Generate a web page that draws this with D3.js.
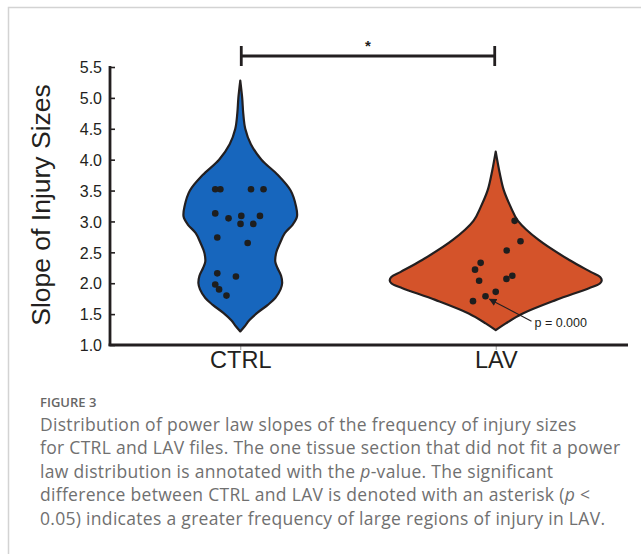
<!DOCTYPE html>
<html>
<head>
<meta charset="utf-8">
<script src="https://cdn.jsdelivr.net/npm/d3@7"></script>
<style>
  html, body { margin: 0; padding: 0; background: #fff; }
  svg { display: block; }
</style>
</head>
<body>
<svg id="chart" width="641" height="554"></svg>
<script>
// ---------- data ----------
const categories = ["CTRL", "LAV"];
const yTicks = [1.0, 1.5, 2.0, 2.5, 3.0, 3.5, 4.0, 4.5, 5.0, 5.5];

// violin density profiles: [value, relative density]
const ctrlProfile = [
  [1.22, 0], [1.30, 0.04], [1.40, 0.085], [1.52, 0.16], [1.65, 0.26], [1.76, 0.33],
  [1.90, 0.38], [2.00, 0.395], [2.12, 0.385], [2.25, 0.35], [2.35, 0.33], [2.50, 0.34],
  [2.65, 0.375], [2.81, 0.42], [2.95, 0.495], [3.08, 0.535], [3.25, 0.525], [3.50, 0.475],
  [3.75, 0.355], [4.00, 0.2], [4.25, 0.1], [4.50, 0.047], [4.75, 0.028], [5.00, 0.018], [5.28, 0]
];
const lavProfile = [
  [1.24, 0], [1.35, 0.095], [1.51, 0.255], [1.73, 0.57], [1.92, 0.88], [2.00, 0.985],
  [2.05, 1.0], [2.10, 0.985], [2.18, 0.9], [2.38, 0.69], [2.70, 0.405], [3.01, 0.21],
  [3.24, 0.14], [3.51, 0.075], [3.78, 0.038], [4.13, 0]
];

// observed slopes and horizontal jitter (fraction of category step)
const ctrlValues = [3.52, 3.52, 3.52, 3.52, 3.13, 3.05, 3.09, 3.09, 2.96, 2.96, 2.74, 2.65, 2.16, 2.11, 1.98, 1.90, 1.80];
const ctrlJitter = [-0.098, -0.078, 0.042, 0.091, -0.098, -0.046, 0.004, 0.077, 0.001, 0.051, -0.090, 0.029, -0.090, -0.017, -0.098, -0.083, -0.054];
const lavValues = [3.01, 2.68, 2.53, 2.33, 2.22, 2.04, 2.07, 2.12, 1.86, 1.79, 1.71];
const lavJitter = [0.074, 0.097, 0.043, -0.059, -0.081, -0.065, 0.042, 0.065, 0.0, -0.040, -0.089];

const annotatedIndex = 9;          // LAV point that did not fit a power law
const annotationText = "p = 0.000";
const yTitle = "Slope of Injury Sizes";
const captionTitle = "FIGURE 3";
const captionLines = [
  "Distribution of power law slopes of the frequency of injury sizes",
  "for CTRL and LAV files. The one tissue section that did not fit a power",
  "law distribution is annotated with the |p|-value. The significant",
  "difference between CTRL and LAV is denoted with an asterisk (|p| <",
  "0.05) indicates a greater frequency of large regions of injury in LAV."
];

const colors = { CTRL: "#1766bd", LAV: "#d4532a" };

// ---------- drawing ----------
const svg = d3.select("#chart");
const ink = "#231f20";

// frame
svg.append("path")
  .attr("d", "M8.5,554 L8.5,7.5 L641,7.5")
  .attr("fill", "none").attr("stroke", "#d3d3d3").attr("stroke-width", 1.5);

const x = d3.scalePoint().domain(categories).range([110, 626]).padding(0.51);
const y = d3.scaleLinear().domain([1, 5.5]).range([345, 67]);
const w = d3.scaleLinear().domain([0, 1]).range([0, 106]);

// violins
const groups = [
  { key: "CTRL", profile: ctrlProfile, values: ctrlValues, jitter: ctrlJitter },
  { key: "LAV", profile: lavProfile, values: lavValues, jitter: lavJitter }
];

groups.forEach(g => {
  const cx = x(g.key);
  const area = d3.area()
    .y(d => y(d[0]))
    .x0(d => cx - w(d[1]))
    .x1(d => cx + w(d[1]))
    .curve(d3.curveCatmullRom.alpha(0.5));
  svg.append("path")
    .datum(g.profile)
    .attr("d", area)
    .attr("fill", colors[g.key])
    .attr("stroke", ink)
    .attr("stroke-width", 2.2)
    .attr("stroke-linejoin", "round");
});

// points
groups.forEach(g => {
  const cx = x(g.key);
  svg.append("g").selectAll("circle")
    .data(g.values)
    .join("circle")
    .attr("cx", (d, i) => cx + g.jitter[i] * x.step())
    .attr("cy", d => y(d))
    .attr("r", 3.3)
    .attr("fill", "#1e1e1e");
});

// y axis
const yAxis = d3.axisRight(y).tickValues(yTicks).tickSize(5).tickFormat(d3.format(".1f"));
const gy = svg.append("g").attr("transform", "translate(110,0)").call(yAxis);
gy.select(".domain").remove();
gy.selectAll(".tick line").attr("stroke", ink).attr("stroke-width", 1.6);
gy.selectAll(".tick text")
  .attr("x", -8).attr("dy", "0.36em")
  .attr("text-anchor", "end")
  .attr("font-family", "Liberation Sans, Arial, sans-serif")
  .attr("font-size", 16).attr("fill", ink);
svg.append("line").attr("x1", 110).attr("x2", 110).attr("y1", 66).attr("y2", 346)
  .attr("stroke", ink).attr("stroke-width", 2.8);

// x axis
const xAxis = d3.axisBottom(x).tickSize(5).tickSizeOuter(0);
const gx = svg.append("g").attr("transform", "translate(0,345)").call(xAxis);
gx.select(".domain").remove();
gx.selectAll(".tick line").attr("stroke", "#999").attr("stroke-width", 1);
gx.selectAll(".tick text")
  .attr("y", 23).attr("dy", 0)
  .attr("font-family", "Liberation Sans, Arial, sans-serif")
  .attr("font-size", 23.5).attr("fill", ink);
svg.append("line").attr("x1", 108.6).attr("x2", 628).attr("y1", 345).attr("y2", 345)
  .attr("stroke", ink).attr("stroke-width", 2.8);

// y title
svg.append("text")
  .attr("transform", "translate(50,205) rotate(-90)")
  .attr("text-anchor", "middle")
  .attr("font-family", "Liberation Sans, Arial, sans-serif")
  .attr("font-size", 26.5).attr("fill", ink)
  .text(yTitle);

// significance bracket
const bx0 = x("CTRL") + 1, bx1 = x("LAV") - 1, by = 56;
svg.append("path")
  .attr("d", `M${bx0},${by - 10} V${by + 10} M${bx0},${by} H${bx1} M${bx1},${by - 10} V${by + 10}`)
  .attr("fill", "none").attr("stroke", ink).attr("stroke-width", 2.8);
svg.append("text")
  .attr("x", (bx0 + bx1) / 2).attr("y", 51)
  .attr("text-anchor", "middle")
  .attr("font-family", "Liberation Sans, Arial, sans-serif")
  .attr("font-size", 15).attr("font-weight", "bold").attr("fill", ink)
  .text("*");

// annotation arrow
svg.append("defs").append("marker")
  .attr("id", "ah").attr("viewBox", "0 0 10 10").attr("refX", 9).attr("refY", 5)
  .attr("markerWidth", 7).attr("markerHeight", 7).attr("orient", "auto")
  .append("path").attr("d", "M0,0 L10,5 L0,10 z").attr("fill", ink);
const ax = x("LAV") + lavJitter[annotatedIndex] * x.step();
const ay = y(lavValues[annotatedIndex]);
svg.append("line")
  .attr("x1", ax + 46).attr("y1", ay + 25)
  .attr("x2", ax + 4).attr("y2", ay + 3)
  .attr("stroke", ink).attr("stroke-width", 1.1)
  .attr("marker-end", "url(#ah)");
svg.append("text")
  .attr("x", ax + 49).attr("y", ay + 31)
  .attr("font-family", "Liberation Sans, Arial, sans-serif")
  .attr("font-size", 12.5).attr("fill", ink)
  .text(annotationText);

// caption
svg.append("text")
  .attr("x", 40).attr("y", 407)
  .attr("font-family", "Open Sans, sans-serif")
  .attr("font-size", 13).attr("font-weight", 600).attr("fill", "#666")
  .text(captionTitle);
captionLines.forEach((line, i) => {
  const t = svg.append("text")
    .attr("x", 40).attr("y", 431 + i * 23.4)
    .attr("font-family", "Open Sans, sans-serif")
    .attr("font-size", 17.5).attr("letter-spacing", 0.3).attr("fill", "#707070");
  line.split("|").forEach((part, j) => {
    t.append("tspan").attr("font-style", j % 2 ? "italic" : "normal").text(part);
  });
});
</script>
</body>
</html>
